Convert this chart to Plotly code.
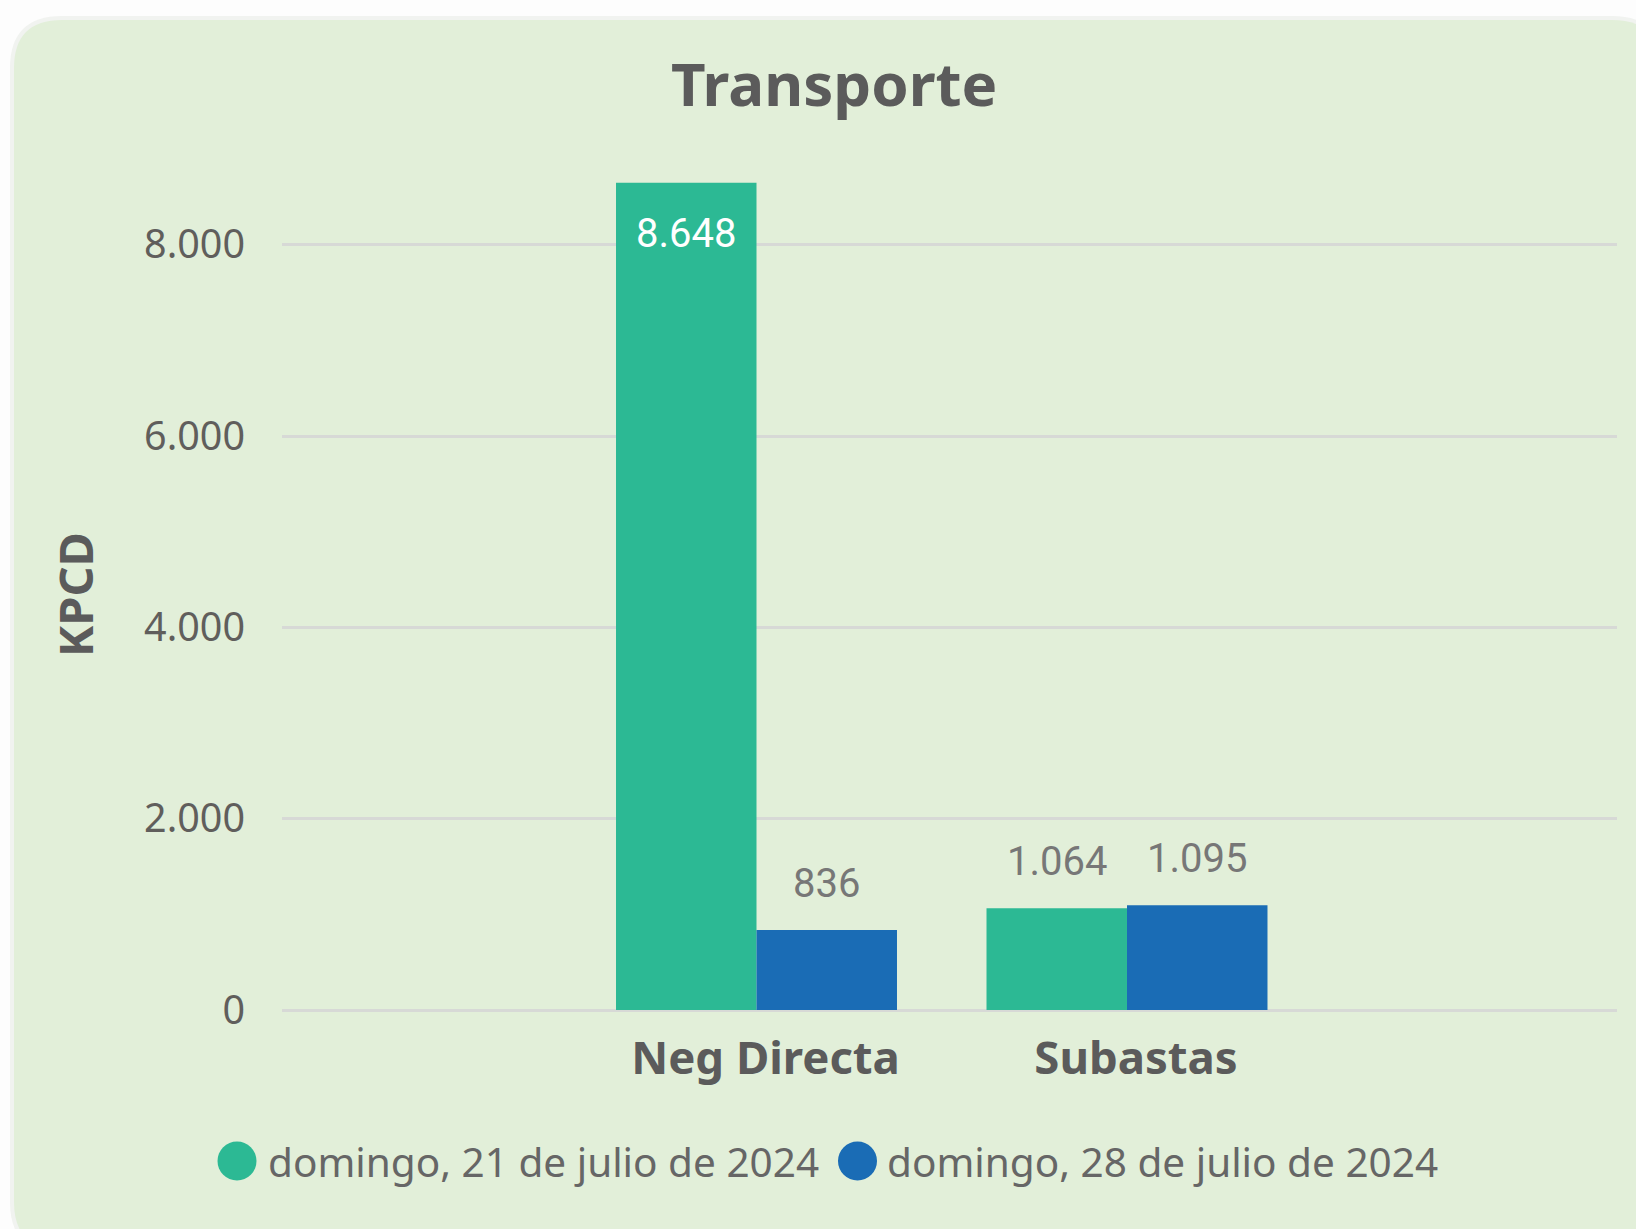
import plotly.graph_objects as go

categories = ["Neg Directa", "Subastas"]
series_names = ["domingo, 21 de julio de 2024", "domingo, 28 de julio de 2024"]
values_21 = [8648, 1064]
values_28 = [836, 1095]
y_ticks = [0, 2000, 4000, 6000, 8000]
title_text = "Transporte"
y_title = "KPCD"

colors = ["#2CB994", "#1A6CB5"]
bg = "#E2EFD9"

W, H = 1636, 1229
L, R, T, B = 282, 19, 149, 219
PW, PH = W - L - R, H - T - B


def px(x):
    return (x - L) / PW


def py(y):
    return (H - B - y) / PH


def fmt(v):
    return f"{v:,}".replace(",", ".")


bargap = 0.2416
bar_w = (1 - bargap) / 2

fig = go.Figure()
for name, vals, col in zip(series_names, [values_21, values_28], colors):
    fig.add_trace(go.Bar(x=categories, y=vals, name=name, marker=dict(color=col, line=dict(width=0)),
                         showlegend=False, hoverinfo="skip"))

annotations = []
# data labels
for si, vals in enumerate([values_21, values_28]):
    off = (-0.5 + si) * bar_w
    for ci, v in enumerate(vals):
        inside = v > 5000
        annotations.append(dict(
            x=ci + off, y=v, xref="x", yref="y", text=fmt(v), showarrow=False,
            yanchor="middle", yshift=-51 if inside else 47,
            font=dict(family="Roboto, DejaVu Sans", size=40,
                      color="#FFFFFF" if inside else "#777777"),
        ))

# title
annotations.append(dict(x=px(834), y=py(83), xref="paper", yref="paper", text=title_text,
                        showarrow=False, xanchor="center", yanchor="middle",
                        font=dict(family="Noto Sans", size=60, color="#5B5B5B", weight="bold")))
# y title
annotations.append(dict(x=px(75), y=py(594), xref="paper", yref="paper", text=y_title,
                        showarrow=False, xanchor="center", yanchor="middle", textangle=-90,
                        font=dict(family="Noto Sans", size=47, color="#5B5B5B", weight="bold")))

# legend (manual)
leg_circles = [237, 857.5]
leg_text_x = [266, 885]
leg_y = 1161
shapes = []


def rounded_rect(x0, y0, x1, y1, r):
    return (f"M {px(x0 + r)},{py(y0)} L {px(x1 - r)},{py(y0)} Q {px(x1)},{py(y0)} {px(x1)},{py(y0 + r)} "
            f"L {px(x1)},{py(y1 - r)} Q {px(x1)},{py(y1)} {px(x1 - r)},{py(y1)} "
            f"L {px(x0 + r)},{py(y1)} Q {px(x0)},{py(y1)} {px(x0)},{py(y1 - r)} "
            f"L {px(x0)},{py(y0 + r)} Q {px(x0)},{py(y0)} {px(x0 + r)},{py(y0)} Z")


shapes.append(dict(type="path", path=rounded_rect(10, 16, 1664, 1254, 52), xref="paper", yref="paper",
                   fillcolor="#F1F3F0", line=dict(width=0), layer="below"))
shapes.append(dict(type="path", path=rounded_rect(14, 20, 1660, 1250, 48), xref="paper", yref="paper",
                   fillcolor=bg, line=dict(width=0), layer="below"))

for cx, tx, name, col in zip(leg_circles, leg_text_x, series_names, colors):
    shapes.append(dict(type="circle", xref="paper", yref="paper", xsizemode="pixel", ysizemode="pixel",
                       xanchor=px(cx), yanchor=py(leg_y), x0=-19.5, x1=19.5, y0=-19.5, y1=19.5,
                       fillcolor=col, line=dict(width=0)))
    annotations.append(dict(x=px(tx), y=py(leg_y), xref="paper", yref="paper", text=name,
                            showarrow=False, xanchor="left", yanchor="middle",
                            font=dict(family="Noto Sans", size=40.5, color="#666666")))

fig.update_layout(
    width=W, height=H,
    margin=dict(l=L, r=R, t=T, b=B, autoexpand=False),
    paper_bgcolor="#FDFDFD", plot_bgcolor="rgba(0,0,0,0)",
    barmode="group", bargap=bargap, bargroupgap=0,
    separators=",.",
    showlegend=False,
    annotations=annotations, shapes=shapes,
    xaxis=dict(type="category", range=[-(756.5 - L) / 370.5, (W - R - 756.5) / 370.5],
               showgrid=False, showline=False, zeroline=False, ticks="",
               tickfont=dict(family="Noto Sans", size=45.5, color="#5B5B5B", weight="bold"),
               ticklabelstandoff=17, ticklabelshift=9),
    yaxis=dict(range=[0, 9000], tickvals=y_ticks, tickformat=",.0f",
               showgrid=True, gridcolor="#D7D9D6", gridwidth=3,
               zeroline=True, zerolinecolor="#D7D9D6", zerolinewidth=3,
               showline=False, ticks="",
               tickfont=dict(family="Noto Sans", size=39.5, color="#605E5C"),
               ticklabelstandoff=36),
)

fig.write_html("out.html")
